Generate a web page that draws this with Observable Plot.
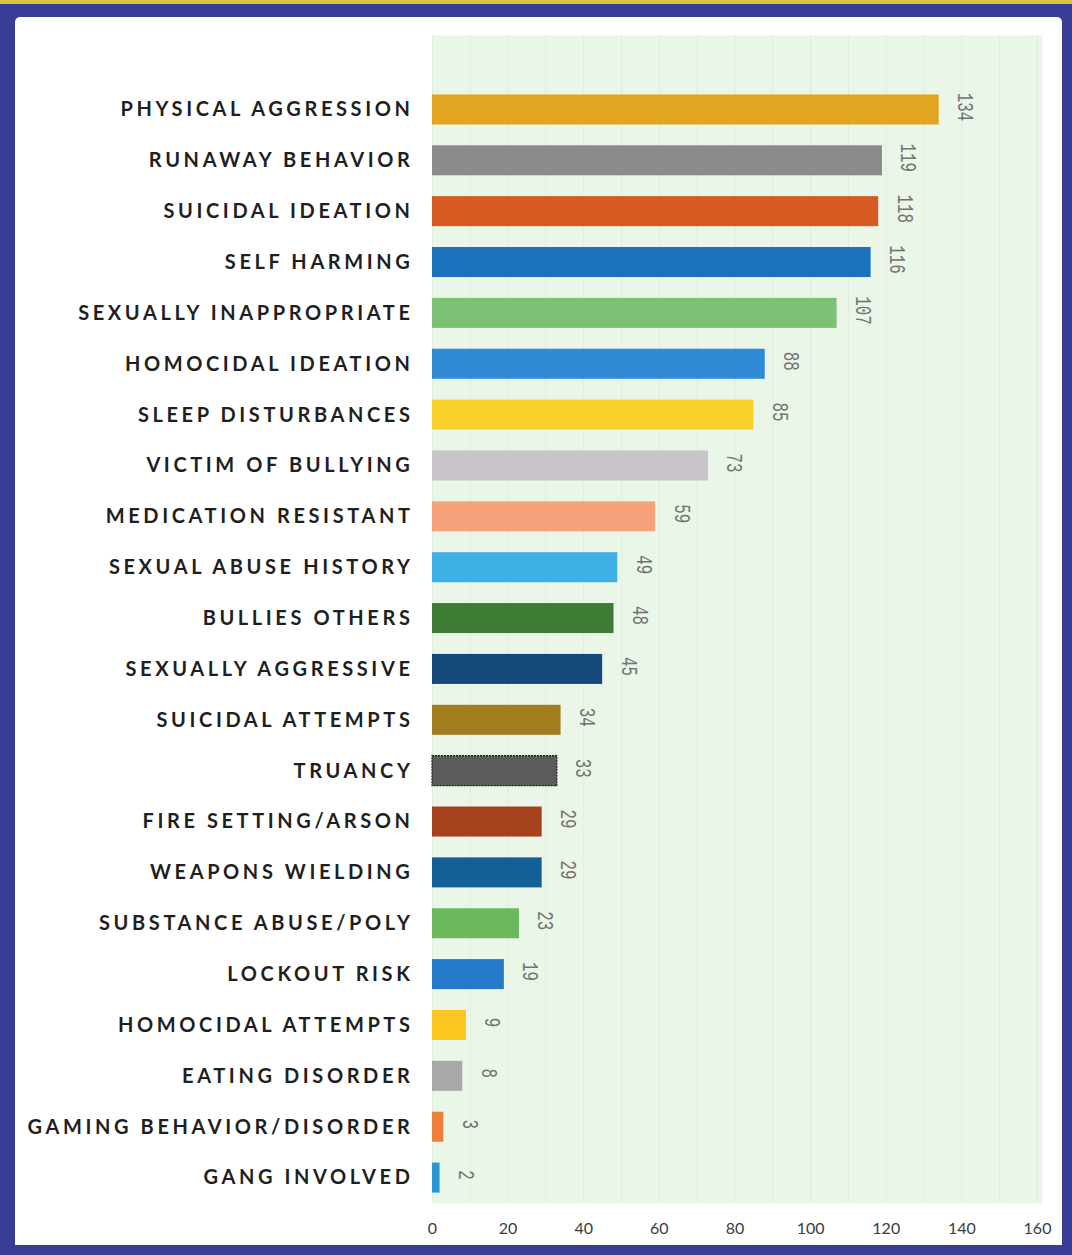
<!DOCTYPE html>
<html><head><meta charset="utf-8">
<script src="https://cdn.jsdelivr.net/npm/d3@7"></script>
<script src="https://cdn.jsdelivr.net/npm/@observablehq/plot@0.6"></script>
<style>
html,body{margin:0;padding:0;background:#fff;}
#frame{position:relative;width:1072px;height:1255px;background:#373c95;overflow:hidden;}
#topline{position:absolute;left:0;top:0;width:1072px;height:4px;background:#d6c640;}
#inner{position:absolute;left:15px;top:17px;width:1047px;height:1228px;background:#fff;border-radius:5px 5px 0 0;}
#inner svg{position:absolute;left:0;top:0;}
g[aria-label="y-axis tick label"] text{letter-spacing:3.6px;}
</style></head><body>
<div id="frame"><div id="topline"></div><div id="inner"></div></div>
<script>
const categories = [
  "PHYSICAL AGGRESSION","RUNAWAY BEHAVIOR","SUICIDAL IDEATION","SELF HARMING",
  "SEXUALLY INAPPROPRIATE","HOMOCIDAL IDEATION","SLEEP DISTURBANCES","VICTIM OF BULLYING",
  "MEDICATION RESISTANT","SEXUAL ABUSE HISTORY","BULLIES OTHERS","SEXUALLY AGGRESSIVE",
  "SUICIDAL ATTEMPTS","TRUANCY","FIRE SETTING/ARSON","WEAPONS WIELDING",
  "SUBSTANCE ABUSE/POLY","LOCKOUT RISK","HOMOCIDAL ATTEMPTS","EATING DISORDER",
  "GAMING BEHAVIOR/DISORDER","GANG INVOLVED"
];
const values = [134,119,118,116,107,88,85,73,59,49,48,45,34,33,29,29,23,19,9,8,3,2];
const colors = [
  "#e1a520","#8d8a8d","#d65a22","#1b72ba",
  "#7cc275","#2f8bd5","#f8d02c","#c9c4c9",
  "#f8a27c","#40b1e6","#3e7b35","#15497c",
  "#a27d1d","#5b5b5b","#a6411d","#135f97",
  "#6cb95b","#2479c8","#fbc620","#a9a9a9",
  "#f07e3b","#2b96d6"
];
const xTicks = [0,20,40,60,80,100,120,140,160];
const gridTicks = [0,10,20,30,40,50,60,70,80,90,100,110,120,130,140,150,160];

const data = categories.map((c,i)=>({category:c, value:values[i], color:colors[i], outline: c==="TRUANCY"}));

const chart = Plot.plot({
  width: 1047,
  height: 1228,
  marginLeft: 417,
  marginRight: 20,
  marginTop: 18,
  marginBottom: 42,
  style: {fontFamily: "Lato, sans-serif", background: "transparent", overflow: "visible"},
  x: {domain: [0,160], insetRight: 5, label: null},
  y: {domain: categories, paddingInner: 0.41, paddingOuter: 0.205, insetTop: 49, round: false, label: null},
  marks: [
    Plot.frame({fill: "#e9f6e8", stroke: "none"}),
    Plot.ruleX(gridTicks, {stroke: "#dfecde", strokeWidth: 1}),
    Plot.barX(data, {x: "value", y: "category", fill: "color",
      stroke: d => d.outline ? "#1a1a1a" : "none", strokeWidth: 1.2, strokeDasharray: "2,1"}),
    Plot.text(data, {x: "value", y: "category", text: d => String(d.value), rotate: 90,
      dx: 26, dy: -3, fontSize: 22, fontFamily: "Liberation Mono, monospace", fill: "#727272",
      textAnchor: "middle", lineAnchor: "middle"}),
    Plot.axisY({tickSize: 0, tickPadding: 19, fontSize: 20, fontWeight: 700, fill: "#1f1f1f", label: null}),
    Plot.axisX({ticks: xTicks, tickSize: 0, tickPadding: 19, fontSize: 16, fill: "#3c3c3c", label: null})
  ]
});
document.getElementById("inner").appendChild(chart);
d3.select(chart).selectAll('g[aria-label="text"] text').each(function(){
  const t = this.getAttribute("transform") || "";
  this.setAttribute("transform", t + " scale(0.72,1)");
});
</script>
</body></html>
